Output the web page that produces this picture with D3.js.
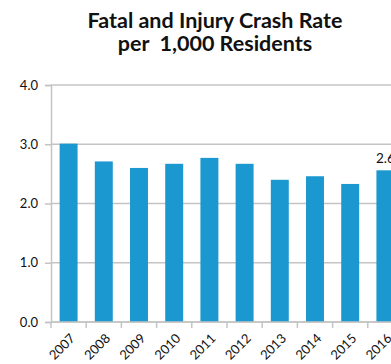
<!DOCTYPE html>
<html>
<head>
<meta charset="utf-8">
<script src="https://cdn.jsdelivr.net/npm/d3@7"></script>
<style>
  html, body { margin: 0; padding: 0; background: #fff; overflow: hidden; }
  svg { display: block; font-family: Lato, "Open Sans", sans-serif; }
</style>
</head>
<body>
<svg id="chart" width="391" height="364"></svg>
<script>
// Fatal and injury crash rate per 1,000 residents, by year
const years = ["2007", "2008", "2009", "2010", "2011", "2012", "2013", "2014", "2015", "2016"];
const rates = [3.01, 2.71, 2.60, 2.67, 2.77, 2.67, 2.40, 2.46, 2.33, 2.56];
const yTicks = [0, 1, 2, 3, 4];
const labelledYears = ["2016"];
const titleLines = ["Fatal and Injury Crash Rate", "per  1,000 Residents"];

const svg = d3.select("#chart");

// the plot runs past the right edge of the canvas, so the last bar is cut
const plot = { left: 51, right: 403, top: 85, bottom: 322 };

const x = d3.scaleBand()
  .domain(years)
  .range([plot.left, plot.right])
  .paddingInner(0.49)
  .paddingOuter(0.245);

const y = d3.scaleLinear()
  .domain([0, 4])
  .range([plot.bottom, plot.top]);

// Title
svg.append("g")
  .selectAll("text")
  .data(titleLines)
  .join("text")
  .attr("x", 215)
  .attr("y", (d, i) => 28 + i * 23)
  .attr("text-anchor", "middle")
  .style("white-space", "pre")
  .attr("font-size", 21.5)
  .attr("font-weight", 700)
  .attr("fill", "#111")
  .text(d => d);

// Horizontal gridlines
svg.append("g")
  .selectAll("line")
  .data(yTicks)
  .join("line")
  .attr("x1", plot.left)
  .attr("x2", 430)
  .attr("y1", d => y(d))
  .attr("y2", d => y(d))
  .attr("stroke", "#c4c4c4")
  .attr("stroke-width", 1.5);

// Bars
const rows = years.map((yr, i) => ({ yr, v: rates[i] }));
svg.append("g")
  .selectAll("rect")
  .data(rows)
  .join("rect")
  .attr("x", d => x(d.yr))
  .attr("width", x.bandwidth())
  .attr("y", d => y(d.v))
  .attr("height", d => y(0) - y(d.v))
  .attr("fill", "#1b98cf");

// Value label on the latest year
const fmt = d3.format(".1f");
svg.append("g")
  .selectAll("text")
  .data(rows.filter(d => labelledYears.includes(d.yr)))
  .join("text")
  .attr("x", d => x(d.yr) + x.bandwidth() / 2)
  .attr("y", d => y(d.v) - 7)
  .attr("text-anchor", "middle")
  .attr("font-size", 13.5)
  .attr("fill", "#111")
  .text(d => fmt(d.v));

// Y axis
const yAxis = svg.append("g")
  .attr("transform", `translate(${plot.left},0)`)
  .call(d3.axisLeft(y).tickValues(yTicks).tickFormat(d3.format(".1f")).tickSize(6).tickPadding(7));
yAxis.select(".domain").attr("stroke", "#c4c4c4").attr("stroke-width", 1.5);
yAxis.selectAll(".tick line").attr("stroke", "#c4c4c4").attr("stroke-width", 1.5);
yAxis.selectAll(".tick text").attr("font-size", 13).attr("fill", "#111").attr("font-family", "Lato, sans-serif");

// X axis: ticks at band boundaries, year labels at 45 degrees
const xg = svg.append("g").attr("transform", `translate(0,${plot.bottom})`);
xg.append("line")
  .attr("x1", plot.left).attr("x2", 430)
  .attr("stroke", "#c4c4c4").attr("stroke-width", 1.5);
const gap = (x.step() - x.bandwidth()) / 2;
xg.selectAll("line.tk")
  .data(years)
  .join("line")
  .attr("class", "tk")
  .attr("x1", d => x(d) - gap)
  .attr("x2", d => x(d) - gap)
  .attr("y1", 0)
  .attr("y2", 6)
  .attr("stroke", "#c4c4c4")
  .attr("stroke-width", 1.5);

xg.selectAll("text.yr")
  .data(years)
  .join("text")
  .attr("class", "yr")
  .attr("transform", d => `translate(${x(d) + x.bandwidth() / 2 + 4},14) rotate(-45)`)
  .attr("text-anchor", "end")
  .attr("dy", "0.35em")
  .attr("font-size", 13)
  .attr("fill", "#111")
  .text(d => d);
</script>
</body>
</html>
